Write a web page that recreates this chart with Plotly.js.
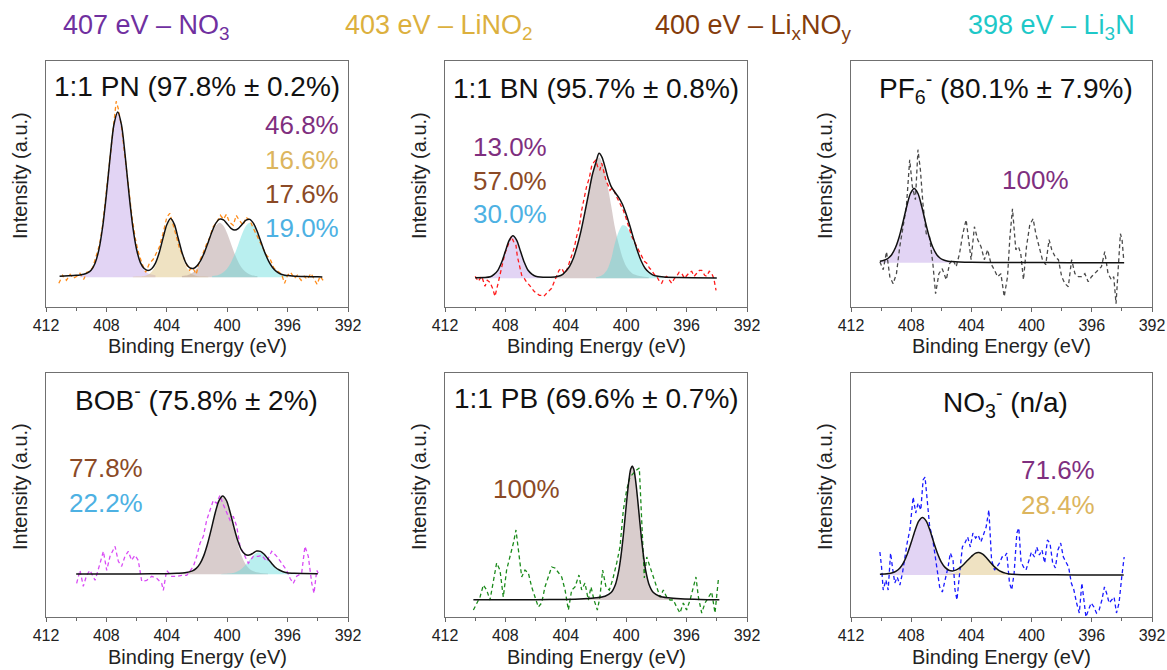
<!DOCTYPE html>
<html><head><meta charset="utf-8">
<script src="https://cdn.plot.ly/plotly-3.0.1.min.js"></script>
<style>html,body{margin:0;padding:0;background:#fff}#chart{width:1167px;height:670px}</style>
</head><body><div id="chart"></div>
<script>
// ---------------- DATA ----------------
const xTickVals = [412, 408, 404, 400, 396, 392];
const legendTexts = ["407 eV – NO<sub>3</sub>", "403 eV – LiNO<sub>2</sub>", "400 eV – Li<sub>x</sub>NO<sub>y</sub>", "398 eV – Li<sub>3</sub>N"];
const panelTitles = ["1:1 PN (97.8% ± 0.2%)", "1:1 BN (95.7% ± 0.8%)", "PF<sub>6</sub><sup>-</sup> (80.1% ± 7.9%)",
                     "BOB<sup>-</sup> (75.8% ± 2%)", "1:1 PB (69.6% ± 0.7%)", "NO<sub>3</sub><sup>-</sup> (n/a)"];
const p1_pct = ["46.8%", "16.6%", "17.6%", "19.0%"];
const p2_pct = ["13.0%", "57.0%", "30.0%"];
const p3_pct = ["100%"];
const p4_pct = ["77.8%", "22.2%"];
const p5_pct = ["100%"];
const p6_pct = ["71.6%", "28.4%"];

// Panel 1: 1:1 PN
const p1_dataE = [411.15,410.9,410.65,410.4,410.2,409.95,409.75,409.5,409.3,409.1,408.9,408.65,408.45,408.25,408.05,407.85,407.65,407.5,407.35,407.2,407.0,406.85,406.65,406.5,406.3,406.1,405.9,405.65,405.4,405.15,404.9,404.7,404.5,404.25,404.0,403.8,403.55,403.35,403.15,403.0,402.7,402.5,402.3,402.05,401.85,401.65,401.4,401.15,400.95,400.7,400.45,400.25,400.05,399.85,399.6,399.4,399.2,398.95,398.75,398.5,398.3,398.1,397.85,397.6,397.4,397.15,396.9,396.65,396.4,396.2,396.0,395.8,395.55,395.35,395.1,394.9,394.7,394.45,394.25,394.05,393.85,393.65];
const p1_dataI = [-6,2,-3,3,-1,1,4,-2,5,6,10,22,33,52,80,108,140,158,176,168,150,131,103,84,60,40,26,14,5,14,18,24,30,44,60,64,52,40,28,24,13,7,10,3,16,22,32,40,50,55,62,58,63,55,52,62,57,52,60,57,50,44,36,28,22,18,9,6,3,-6,2,5,-1,2,-3,1,-2,4,-1,-7,1,-3];
const p1_fitE = [411.1,410.5,410.0,409.75,409.5,409.25,409.0,408.75,408.5,408.25,408.0,407.75,407.5,407.25,407.0,406.75,406.5,406.25,406.0,405.75,405.5,405.25,405.0,404.75,404.5,404.25,404.0,403.75,403.5,403.25,403.0,402.75,402.5,402.25,402.0,401.75,401.5,401.25,401.0,400.75,400.5,400.25,400.0,399.75,399.5,399.25,399.0,398.75,398.5,398.25,398.0,397.75,397.5,397.25,397.0,396.75,396.5,396.25,396.0,395.5,395.0,394.5,394.0,393.7];
const p1_fitI = [1.0,1.5,2.0,2.4,3.1,4.4,7.4,14.1,27.4,50.3,83.0,120.8,152.8,165.4,152.5,120.7,83.0,50.4,27.8,14.7,8.8,6.9,8.6,14.2,24.8,39.2,52.6,58.7,52.9,39.3,25.2,14.7,9.6,8.8,11.4,16.9,25.2,35.4,45.8,54.1,58.2,57.4,53.3,49.0,47.2,49.0,53.1,57.1,57.9,53.6,45.3,34.8,24.4,15.9,9.8,5.9,3.6,2.3,1.8,1.0,0.8,0.6,0.5,0.4];
const p1_no3E = [409.75,409.5,409.25,409.0,408.75,408.5,408.25,408.0,407.75,407.5,407.25,407.0,406.75,406.5,406.25,406.0,405.75,405.5,405.25,405.0,404.75];
const p1_no3I = [2.1,2.8,4.1,7.1,13.7,27.0,49.8,82.5,120.2,152.1,165,152.1,120.2,82.5,49.8,27.0,13.7,7.1,4.1,2.8,2.1];
const p1_lino2E = [406.25,406.0,405.75,405.5,405.25,405.0,404.75,404.5,404.25,404.0,403.75,403.5,403.25,403.0,402.75,402.5,402.25,402.0,401.75,401.5,401.25];
const p1_lino2I = [0.5,0.7,0.9,1.4,2.6,5.6,11.9,22.9,37.5,51.2,57,51.2,37.5,22.9,11.9,5.6,2.6,1.4,0.9,0.7,0.5];
const p1_lixE = [403.0,402.75,402.5,402.25,402.0,401.75,401.5,401.25,401.0,400.75,400.5,400.25,400.0,399.75,399.5,399.25,399.0,398.75,398.5,398.25,398.0];
const p1_lixI = [1.2,1.7,2.9,5.1,8.9,14.9,23.3,33.5,43.7,51.5,54.5,51.5,43.7,33.5,23.3,14.9,8.9,5.1,2.9,1.7,1.2];
const p1_li3nE = [401.0,400.75,400.5,400.25,400.0,399.75,399.5,399.25,399.0,398.75,398.5,398.25,398.0,397.75,397.5,397.25,397.0,396.75,396.5,396.25,396.0];
const p1_li3nI = [1.2,1.7,2.9,5.1,8.9,14.9,23.3,33.5,43.7,51.5,54.5,51.5,43.7,33.5,23.3,14.9,8.9,5.1,2.9,1.7,1.2];

// Panel 2: 1:1 BN
const p2_dataE = [410.0,409.8,409.57,409.35,409.2,409.02,408.85,408.69,408.5,408.36,408.2,408.03,407.9,407.74,407.6,407.47,407.3,407.21,407.05,406.92,406.75,406.59,406.4,406.26,406.1,405.93,405.75,405.6,405.45,405.27,405.1,404.94,404.78,404.61,404.45,404.27,404.1,403.94,403.78,403.61,403.45,403.28,403.1,402.95,402.78,402.62,402.45,402.29,402.15,402.02,401.9,401.75,401.62,401.5,401.34,401.2,401.07,400.95,400.81,400.65,400.52,400.35,400.19,400.05,399.93,399.8,399.64,399.45,399.3,399.1,398.97,398.8,398.64,398.45,398.31,398.15,397.98,397.8,397.65,397.5,397.32,397.15,396.99,396.8,396.66,396.5,396.32,396.15,395.99,395.8,395.66,395.5,395.33,395.15,395.0,394.8,394.67,394.5,394.34,394.2,394.05];
const p2_dataI = [2,-3,2,-8,-2,-4,-10,-18,-6,5,14,25,30,37,42,37,33,22,12,3,0,-4,-7,-10,-13,-15,-17,-17,-18,-15,-12,-10,-4,2,8,10,5,8,15,22,30,42,52,68,80,92,100,112,116,118,112,108,115,108,98,93,88,90,88,82,78,74,68,62,55,50,42,36,32,26,22,17,15,10,8,4,2,-3,-5,0,2,-2,-5,0,2,6,5,0,3,6,7,2,5,8,8,3,2,7,5,0,-12];
const p2_fitE = [410.0,409.0,408.75,408.5,408.25,408.0,407.75,407.5,407.25,407.0,406.75,406.5,406.25,406.0,405.0,404.5,404.2,404.0,403.75,403.5,403.25,403.0,402.75,402.5,402.25,402.0,401.8,401.6,401.4,401.2,401.0,400.75,400.5,400.25,400.0,399.75,399.5,399.25,399.0,398.75,398.5,398.25,398.0,397.5,396.5,394.0];
const p2_fitI = [0.5,1.5,3.9,8,16,27,38,42.5,38,27,16,8,4.2,2,1,2,4,7,12,20,32,47,65,84,103,116,125,121,111,100,92,86,81,74,64,52,39,27,17,10,6,3.5,2.2,1.2,0.7,0.4];
const p2_no3E = [409.5,409.0,408.75,408.5,408.25,408.0,407.75,407.5,407.25,407.0,406.75,406.5,406.25,406.0,405.5];
const p2_no3I = [0.6,1.6,3.5,7.9,15.9,26.9,37.6,42.3,37.6,26.9,15.9,7.9,3.5,1.6,0.6];
const p2_lixE = [405.0,404.5,404.2,404.0,403.75,403.5,403.25,403.0,402.75,402.5,402.25,402.0,401.8,401.5,401.25,401.0,400.75,400.5,400.25,400.0,399.75,399.5,399.0,398.5];
const p2_lixI = [0.8,1.8,3.8,6.7,11.7,19.6,31.5,46,64,83,101,114.5,121,112,94,73,51,34.5,21,12,7,4,2,1];
const p2_li3nE = [402.0,401.75,401.5,401.25,401.0,400.75,400.5,400.25,400.0,399.75,399.5,399.25,399.0,398.75,398.5,398.25,398.0,397.5];
const p2_li3nI = [1,2,4,8.7,19,35,46.5,53,52,45,35,24.3,15,8.5,5,3,1.8,0.8];

// Panel 3: PF6-
const p3_dataE = [410.08,409.86,409.64,409.42,409.20,408.98,408.76,408.54,408.32,408.10,407.92,407.72,407.55,407.39,407.22,407.00,406.78,406.56,406.38,406.16,405.94,405.67,405.45,405.23,405.01,404.79,404.57,404.35,404.13,404.02,403.80,403.58,403.36,403.14,402.92,402.70,402.48,402.26,402.04,401.82,401.60,401.44,401.27,401.05,400.87,400.72,400.54,400.34,400.12,399.90,399.72,399.50,399.28,399.06,398.84,398.66,398.44,398.22,398.00,397.78,397.56,397.34,397.12,396.90,396.68,396.46,396.24,396.02,395.80,395.58,395.36,395.14,394.92,394.70,394.54,394.39,394.26,394.10,393.99,393.88];
const p3_dataI = [1,-7,11,-14,-21,-11,16,36,56,103,76,63,113,93,59,29,26,-1,-31,-11,-6,-17,-1,3,-4,9,29,43,16,3,36,23,16,3,13,-1,-7,-14,-11,-34,-14,26,54,13,16,9,-17,16,38,44,29,16,3,-2,23,13,6,3,-14,-21,-24,3,-11,-14,-14,-11,-19,-14,-11,-7,-4,11,-11,-17,-14,-41,-11,29,23,3];
const p3_fitE = [410.08,409.8,409.55,409.3,409.05,408.8,408.55,408.3,408.05,407.8,407.55,407.3,407.05,406.8,406.55,406.3,406.05,405.8,405.55,405.3,404.8,404.0,402.0,399.0,396.0,393.85];
const p3_fitI = [1.4,2.4,4.2,8.0,14.9,25.7,40.3,56.2,69.2,74.3,69.2,56.2,40.3,25.7,14.9,8.0,4.2,2.4,1.5,1.1,0.7,0.4,0.2,0.1,0.05,0];
const p3_no3E = [410.05,409.8,409.55,409.3,409.05,408.8,408.55,408.3,408.05,407.8,407.55,407.3,407.05,406.8,406.55,406.3,406.05,405.8,405.55,405.3];
const p3_no3I = [1.5,2.4,4.2,8.0,14.9,25.7,40.3,56.2,69.2,74.3,69.2,56.2,40.3,25.7,14.9,8.0,4.2,2.4,1.5,1.1];

// Panel 4: BOB-
const p4_dataE = [409.97,409.75,409.53,409.31,409.09,408.75,408.42,408.20,407.98,407.76,407.43,407.21,406.99,406.77,406.55,406.33,406.11,405.89,405.66,405.33,405.0,404.67,404.34,404.23,404.01,403.68,403.34,403.01,402.68,402.24,402.02,401.80,401.58,401.36,401.14,400.92,400.70,400.48,400.30,400.03,399.81,399.60,399.37,399.15,398.82,398.60,398.27,397.94,397.72,397.38,397.05,396.72,396.39,396.06,395.84,395.62,395.40,395.07,394.85,394.63,394.40,394.25,394.07,393.97];
const p4_dataI = [-9,4,-12,-1,4,-6,11,23,4,18,28,13,8,18,23,14,19,14,-7,-6,-2,-4,-9,-16,4,-2,-2,-1,-1,8,18,31,38,54,64,74,71,79,71,61,54,58,48,28,18,11,18,18,19,13,23,18,11,4,-4,-9,-2,1,28,18,-9,-19,4,1];
const p4_fitE = [410.0,408.0,406.0,404.0,403.3,402.8,402.3,402.05,401.8,401.55,401.3,401.05,400.8,400.55,400.3,400.05,399.8,399.55,399.3,399.05,398.8,398.55,398.3,398.05,397.8,397.55,397.3,397.05,396.8,396.55,396.3,396.05,395.55,395.05,394.0];
const p4_fitI = [0.2,0.3,0.4,0.6,1.0,1.5,3.4,5.9,10.7,18.7,30.5,45.4,61.1,73.5,78.4,73.8,61.7,46.9,33.5,24.1,19.8,19.2,21.0,23.2,22.9,20.0,15.5,10.9,6.8,4.3,2.5,1.6,1.0,0.75,0.45];
const p4_lixE = [403.3,402.8,402.3,402.05,401.8,401.55,401.3,401.05,400.8,400.55,400.3,400.05,399.8,399.55,399.3,399.05,398.8,398.55,398.3,398.05,397.8,397.3];
const p4_lixI = [0.9,1.4,3.2,5.7,10.5,18.5,30.3,45.2,60.8,73.2,78,73.2,60.8,45.2,30.3,18.5,10.5,5.7,3.2,2.0,1.4,0.9];
const p4_li3nE = [400.4,400.15,399.9,399.65,399.4,399.15,398.9,398.65,398.4,398.15,397.9,397.65,397.4,397.15,396.9,396.65,396.4,396.15,395.9,395.65,395.4];
const p4_li3nI = [0.33,0.45,0.7,1.25,2.4,4.4,7.6,11.9,16.6,20.5,22,20.5,16.6,11.9,7.6,4.4,2.4,1.25,0.7,0.45,0.33];

// Panel 5: 1:1 PB
const p5_dataE = [410.12,409.90,409.68,409.46,409.24,409.02,408.80,408.58,408.36,408.14,407.92,407.70,407.47,407.30,407.14,406.92,406.70,406.48,406.26,406.04,405.82,405.60,405.38,405.16,404.94,404.72,404.49,404.27,404.05,403.83,403.61,403.39,403.13,402.95,402.73,402.51,402.33,402.13,401.91,401.74,401.56,401.34,401.12,400.90,400.63,400.41,400.19,399.97,399.75,399.53,399.31,399.13,398.98,398.80,398.64,398.42,398.20,397.98,397.76,397.54,397.32,397.10,396.88,396.66,396.44,396.22,396.0,395.77,395.55,395.38,395.22,395.0,394.78,394.56,394.34,394.12,393.90];
const p5_dataI = [-10,-3,3,15,10,0,17,37,30,3,30,43,57,70,50,23,30,27,13,3,-7,-3,13,23,33,32,27,23,10,-10,10,13,25,10,17,0,13,0,-10,3,30,13,10,20,37,53,90,110,123,127,130,132,83,22,43,33,23,13,3,10,3,0,0,-7,-13,-3,-10,0,13,23,3,-13,-3,3,8,-13,20];
const p5_fitE = [410.12,408.0,406.0,404.1,402.8,402.0,401.4,401.0,400.7,400.5,400.35,400.2,400.1,400.0,399.9,399.8,399.7,399.6,399.5,399.4,399.3,399.2,399.1,399.0,398.85,398.7,398.5,398.2,397.8,397.2,396.4,395.1,393.83];
const p5_fitI = [0.15,0.25,0.35,0.6,1.3,2.2,3.8,7.4,16.1,28.8,43.7,63.2,78.4,94.1,109.2,122.1,130.9,134,130.9,122.1,109.2,94.1,78.4,63.2,43.7,28.8,16.1,7.4,3.8,2.2,1.3,0.6,0.35];
const p5_lixE = [404.1,402.8,402.0,401.4,401.0,400.7,400.5,400.35,400.2,400.1,400.0,399.9,399.8,399.7,399.6,399.5,399.4,399.3,399.2,399.1,399.0,398.85,398.7,398.5,398.2,397.8,397.2,396.4,395.1];
const p5_lixI = [0.6,1.3,2.2,3.8,7.4,16.1,28.8,43.7,63.2,78.4,94.1,109.2,122.1,130.9,134,130.9,122.1,109.2,94.1,78.4,63.2,43.7,28.8,16.1,7.4,3.8,2.2,1.3,0.6];

// Panel 6: NO3-
const p6_dataE = [410.08,409.97,409.86,409.68,409.53,409.37,409.24,409.09,408.93,408.75,408.58,408.42,408.27,408.09,407.87,407.70,407.54,407.36,407.21,407.08,406.94,406.77,406.59,406.44,406.28,406.11,405.93,405.75,405.55,405.40,405.22,405.09,404.96,404.78,404.60,404.43,404.25,404.07,403.90,403.72,403.55,403.37,403.19,403.02,402.84,402.66,402.46,402.31,402.13,401.96,401.80,401.65,401.47,401.32,401.16,400.98,400.85,400.70,400.54,400.37,400.19,400.01,399.81,399.66,399.48,399.31,399.13,398.95,398.78,398.60,398.42,398.25,398.07,397.89,397.72,397.54,397.36,397.19,397.01,396.83,396.66,396.53,396.39,396.22,396.04,395.86,395.69,395.51,395.33,395.16,395.02,394.85,394.67,394.52,394.36,394.19,394.01,393.85];
const p6_dataI = [23,8,-15,-5,-15,22,7,-8,-2,-10,2,18,32,45,78,62,72,65,95,98,78,48,38,23,5,-12,-17,-5,8,22,15,-15,-25,2,28,32,38,28,42,37,40,33,40,48,65,15,5,8,12,18,18,22,-8,-15,2,42,47,13,8,5,13,23,18,28,20,25,12,35,32,12,7,25,32,18,13,8,-8,-15,-28,-38,-8,-25,-42,-35,-28,-32,-38,-35,-25,-12,-18,-28,-25,-22,-38,-28,-2,18];
const p6_fitE = [410.08,409.75,409.5,409.25,409.0,408.75,408.5,408.25,408.0,407.75,407.5,407.25,407.0,406.75,406.5,406.25,406.0,405.75,405.5,405.25,405.0,404.75,404.5,404.25,404.0,403.75,403.5,403.25,403.0,402.75,402.5,402.25,402.0,401.75,401.5,401.0,400.0,397.0,393.88];
const p6_fitI = [0.8,1.0,1.4,2.2,3.8,7.0,12.7,21.3,32.4,44.3,53.8,57.5,53.9,44.4,32.5,21.5,12.9,7.6,4.8,4.1,5.1,7.3,10.7,14.7,18.5,21.7,22.5,20.8,17.2,12.7,8.6,5.4,3.2,1.85,1.05,0.5,0.25,0.1,0.05];
const p6_no3E = [409.75,409.5,409.25,409.0,408.75,408.5,408.25,408.0,407.75,407.5,407.25,407.0,406.75,406.5,406.25,406.0,405.75,405.5,405.25,405.0,404.75];
const p6_no3I = [0.9,1.3,2.1,3.7,6.9,12.5,21.1,32.2,44.1,53.6,57.3,53.6,44.1,32.2,21.1,12.5,6.9,3.7,2.1,1.3,0.9];
const p6_lino2E = [406.05,405.8,405.55,405.3,405.05,404.8,404.55,404.3,404.05,403.8,403.55,403.3,403.05,402.8,402.55,402.3,402.05,401.8,401.55,401.3,401.05];
const p6_lino2I = [0.4,0.6,1.0,1.85,3.3,5.7,9.1,13.3,17.6,21.0,22.3,21.0,17.6,13.3,9.1,5.7,3.3,1.85,1.0,0.6,0.4];

// ---------------- STYLE / LAYOUT ----------------
const W = 1167, H = 670;
const FONT = 'Arial, "Liberation Sans", sans-serif';
const px = x => x / W, py = y => 1 - y / H;
const FILL = {no3:'rgba(190,160,230,0.45)', lino2:'rgba(220,190,120,0.45)', lix:'rgba(170,145,145,0.45)', li3n:'rgba(100,220,220,0.45)'};
const PCT = {no3:'#7f2f7f', lino2:'#dcb55e', lix:'#8b4a26', li3n:'#4db1e3'};
const LEG = ['#7030a0', '#dcb03e', '#843c0c', '#1ec8c8'];
const cols = [[46,348],[445,747],[851,1152]];
const rows = [[61,306.7],[372.7,616.7]];
const baseY = [277.3, 278.3, 262.7, 574.3, 600, 575];

const panels = [
  {data:[p1_dataE,p1_dataI], color:'#ff8c1a', fit:[p1_fitE,p1_fitI],
   comps:[[p1_no3E,p1_no3I,'no3'],[p1_lino2E,p1_lino2I,'lino2'],[p1_lixE,p1_lixI,'lix'],[p1_li3nE,p1_li3nI,'li3n']]},
  {data:[p2_dataE,p2_dataI], color:'#ff1a1a', fit:[p2_fitE,p2_fitI],
   comps:[[p2_no3E,p2_no3I,'no3'],[p2_lixE,p2_lixI,'lix'],[p2_li3nE,p2_li3nI,'li3n']]},
  {data:[p3_dataE,p3_dataI], color:'#4a4a4a', fit:[p3_fitE,p3_fitI],
   comps:[[p3_no3E,p3_no3I,'no3']]},
  {data:[p4_dataE,p4_dataI], color:'#d94cf5', fit:[p4_fitE,p4_fitI],
   comps:[[p4_lixE,p4_lixI,'lix'],[p4_li3nE,p4_li3nI,'li3n']]},
  {data:[p5_dataE,p5_dataI], color:'#1a8a1a', fit:[p5_fitE,p5_fitI],
   comps:[[p5_lixE,p5_lixI,'lix']]},
  {data:[p6_dataE,p6_dataI], color:'#1a1aff', fit:[p6_fitE,p6_fitI],
   comps:[[p6_no3E,p6_no3I,'no3'],[p6_lino2E,p6_lino2I,'lino2']]}
];

const traces = [];
const layout = {width:W, height:H, margin:{l:0,r:0,t:0,b:0}, showlegend:false,
  paper_bgcolor:'#fff', plot_bgcolor:'#fff', font:{family:FONT, color:'#222'}, annotations:[]};

panels.forEach((p, i) => {
  const r = Math.floor(i/3), c = i%3;
  const xa = 'x' + (i ? i+1 : ''), ya = 'y' + (i ? i+1 : '');
  const [l, rr] = cols[c], [t, b] = rows[r];
  p.comps.forEach(cp => traces.push({x:cp[0], y:cp[1], xaxis:xa, yaxis:ya, type:'scatter', mode:'lines',
    line:{width:0, shape:'spline', smoothing:0.8}, fill:'tozeroy', fillcolor:FILL[cp[2]], hoverinfo:'skip'}));
  traces.push({x:p.data[0], y:p.data[1], xaxis:xa, yaxis:ya, type:'scatter', mode:'lines',
    line:{color:p.color, width:1.3, dash:'4px,3px'}});
  traces.push({x:p.fit[0], y:p.fit[1], xaxis:xa, yaxis:ya, type:'scatter', mode:'lines',
    line:{color:'#111', width:1.5, shape:'spline', smoothing:0.8}});
  layout['xaxis' + (i ? i+1 : '')] = {domain:[px(l), px(rr)], anchor:ya, range:[412, 392],
    tickmode:'array', tickvals:xTickVals, ticks:'outside', ticklen:4, tickwidth:1, tickcolor:'#666',
    minor:{tickmode:'linear', tick0:392, dtick:2, ticks:'outside', ticklen:3, tickcolor:'#666'},
    showline:true, mirror:true, linecolor:'#707070', linewidth:1.2, showgrid:false, zeroline:false,
    tickfont:{size:16, family:FONT, color:'#222'}, fixedrange:true};
  layout['yaxis' + (i ? i+1 : '')] = {domain:[py(b), py(t)], anchor:xa,
    range:[baseY[i]-b, baseY[i]-t], showticklabels:false, ticks:'', showline:true, mirror:true,
    linecolor:'#707070', linewidth:1.2, showgrid:false, zeroline:false, fixedrange:true};
  // axis titles
  layout.annotations.push({text:'Binding Energy (eV)', x:px((l+rr)/2), y:py(r ? 657 : 346), xref:'paper', yref:'paper',
    showarrow:false, xanchor:'center', yanchor:'middle', font:{size:20, family:FONT, color:'#222'}});
  layout.annotations.push({text:'Intensity (a.u.)', x:px(l-26), y:py(r ? 487 : 176), xref:'paper', yref:'paper',
    showarrow:false, xanchor:'center', yanchor:'middle', textangle:-90, font:{size:20, family:FONT, color:'#222'}});
});

// panel titles
const titlePos = [[197,87],[596,88],[1006,88],[196,398],[596,398],[1005,402]];
panelTitles.forEach((t, i) => layout.annotations.push({text:t, x:px(titlePos[i][0]), y:py(titlePos[i][1]),
  xref:'paper', yref:'paper', showarrow:false, xanchor:'center', yanchor:'middle', font:{size:28, family:FONT, color:'#111'}}));

// legend row
const legX = [146, 439, 753, 1051];
legendTexts.forEach((t, i) => layout.annotations.push({text:t, x:px(legX[i]), y:py(27), xref:'paper', yref:'paper',
  showarrow:false, xanchor:'center', yanchor:'middle', font:{size:27, family:FONT, color:LEG[i]}}));

// percentages
function pct(text, x, y, anchor, col) {
  layout.annotations.push({text:text, x:px(x), y:py(y), xref:'paper', yref:'paper', showarrow:false,
    xanchor:anchor, yanchor:'middle', font:{size:26, family:FONT, color:col}});
}
pct(p1_pct[0], 341, 125, 'right', PCT.no3); pct(p1_pct[1], 341, 160, 'right', PCT.lino2);
pct(p1_pct[2], 341, 194, 'right', PCT.lix); pct(p1_pct[3], 341, 228, 'right', PCT.li3n);
pct(p2_pct[0], 471, 147, 'left', PCT.no3); pct(p2_pct[1], 471, 181, 'left', PCT.lix); pct(p2_pct[2], 471, 214, 'left', PCT.li3n);
pct(p3_pct[0], 1035, 180, 'center', PCT.no3);
pct(p4_pct[0], 67, 468, 'left', PCT.lix); pct(p4_pct[1], 67, 503, 'left', PCT.li3n);
pct(p5_pct[0], 526, 489, 'center', PCT.lix);
pct(p6_pct[0], 1019, 470, 'left', PCT.no3); pct(p6_pct[1], 1019, 505, 'left', PCT.lino2);

Plotly.newPlot('chart', traces, layout, {staticPlot:true, displayModeBar:false});
</script>
</body></html>
